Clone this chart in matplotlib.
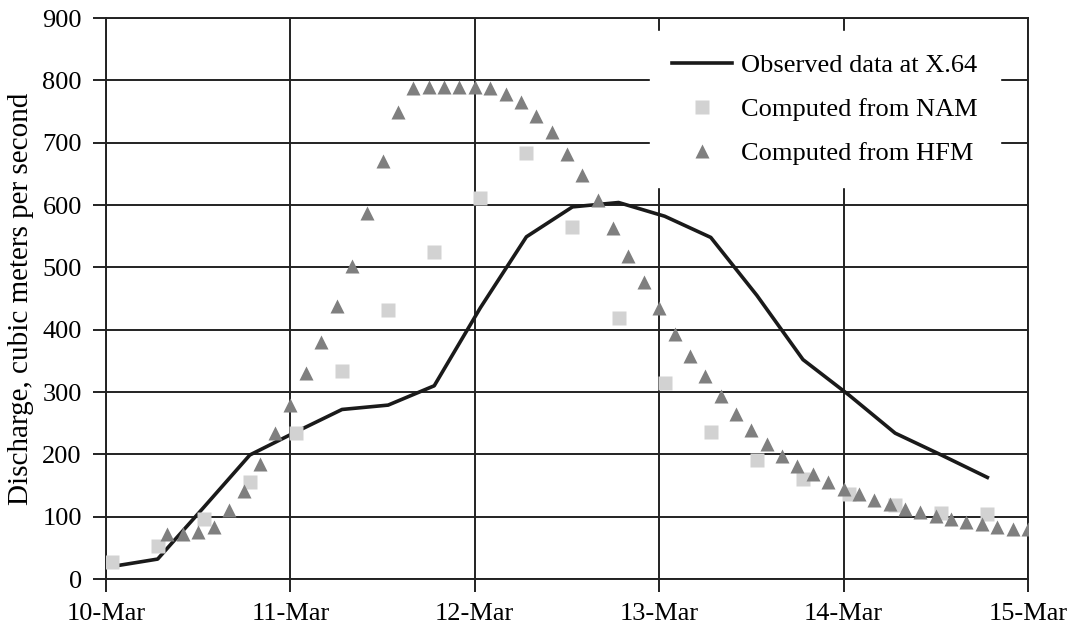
import matplotlib.pyplot as plt

# days since 10-Mar 00:00
obs_days = [0.03, 0.28, 0.53, 0.78, 1.03, 1.28, 1.53, 1.78, 2.03, 2.28,
            2.53, 2.78, 3.03, 3.28, 3.53, 3.78, 4.03, 4.28, 4.53, 4.78]
obs_q = [20, 32, 115, 199, 236, 272, 279, 310, 435, 549,
         597, 604, 582, 548, 455, 352, 295, 234, 199, 163]

nam_days = obs_days
nam_q = [28, 53, 96, 156, 235, 333, 432, 525, 612, 683,
         564, 419, 314, 236, 191, 160, 137, 119, 106, 105]

# HFM output every 2 hours
hfm_hours = [8, 10, 12, 14, 16, 18, 20, 22, 24, 26, 28, 30, 32, 34, 36, 38,
             40, 42, 44, 46, 48, 50, 52, 54, 56, 58, 60, 62, 64, 66, 68, 70,
             72, 74, 76, 78, 80, 82, 84, 86, 88, 90, 92, 94, 96, 98, 100, 102,
             104, 106, 108, 110, 112, 114, 116, 118, 120]
hfm_q = [72, 72, 76, 84, 110, 142, 184, 234, 279, 330, 380, 438, 502, 587,
         670, 750, 787, 790, 790, 790, 790, 787, 778, 765, 742, 717, 682, 648,
         608, 563, 518, 476, 435, 393, 358, 325, 294, 265, 239, 217, 198, 182,
         168, 156, 145, 136, 127, 120, 113, 107, 101, 97, 91, 88, 84, 81, 81]
hfm_days = [h / 24 for h in hfm_hours]

date_labels = ['10-Mar', '11-Mar', '12-Mar', '13-Mar', '14-Mar', '15-Mar']

plt.rcParams['font.family'] = ['Liberation Serif', 'DejaVu Serif']
fs = 19
line_col = '#222222'

fig = plt.figure(figsize=(10.82, 6.43), dpi=100)
ax = fig.add_axes([0.098, 0.0995, 0.852, 0.8725])

ax.plot(obs_days, obs_q, color='#1a1a1a', lw=2.6, zorder=3,
        label='Observed data at X.64')
ax.plot(nam_days, nam_q, ls='none', marker='s', ms=9.5, color='#d2d2d2',
        mec='none', zorder=4, label='Computed from NAM')
ax.plot(hfm_days, hfm_q, ls='none', marker='^', ms=10, color='#7f7f7f',
        mec='none', zorder=5, label='Computed from HFM')

ax.set_xlim(0, 5)
ax.set_ylim(0, 900)
ax.set_xticks(range(6))
ax.set_xticklabels(date_labels)
ax.set_yticks(range(0, 901, 100))
ax.grid(True, color=line_col, lw=1.4)
ax.set_axisbelow(True)
for s in ax.spines.values():
    s.set_color(line_col)
    s.set_linewidth(1.4)
ax.tick_params(axis='both', direction='out', length=9.4, width=1.4,
               color=line_col, labelsize=fs)
ax.tick_params(axis='y', pad=8)
ax.tick_params(axis='x', pad=8)
ax.set_ylabel('Discharge, cubic meters per second', fontsize=21, labelpad=6)

leg = ax.legend(loc='upper right', bbox_to_anchor=(0.97, 0.977),
                borderaxespad=0, fontsize=fs, frameon=True, fancybox=False,
                framealpha=1, facecolor='white', edgecolor='white',
                handlelength=2.26, handletextpad=0.35, labelspacing=0.78,
                borderpad=0.85, numpoints=1)
leg.set_zorder(10)

fig.savefig('out.png', dpi=100)
